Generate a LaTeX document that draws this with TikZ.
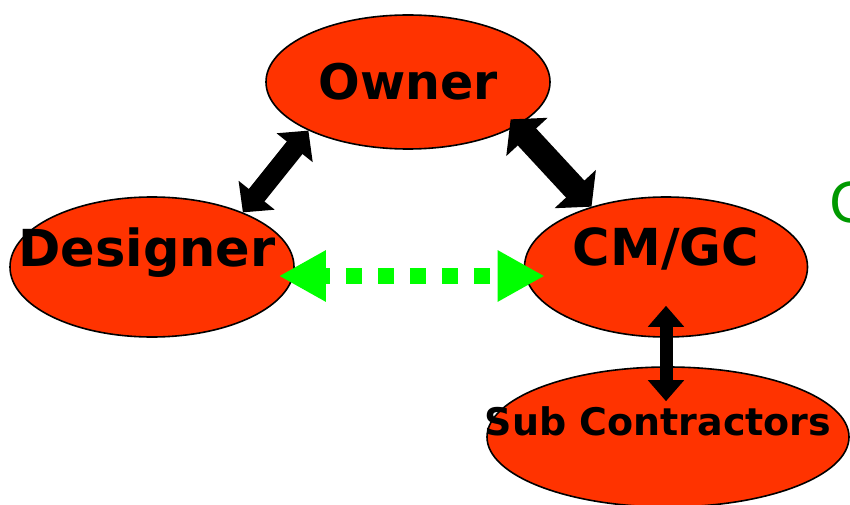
\documentclass[tikz,border=0pt]{standalone}
\usepackage{fontspec}
\setmainfont{DejaVu Sans}
\usetikzlibrary{positioning, shapes.geometric, arrows.meta}
\definecolor{partyred}{RGB}{255,51,0}
\definecolor{linkgreen}{RGB}{0,255,0}
\definecolor{textgreen}{RGB}{0,153,0}

\begin{document}
\begin{tikzpicture}[x=1pt, y=-1pt,
            party/.style ={ellipse, fill=partyred, draw=black, line width=1.6pt,
            inner sep=0pt},
            lbl/.style ={anchor=base, font=\bfseries, text=black, inner sep=0pt},
            fatlink/.style ={{Triangle[length=24pt,width=55pt]}-{Triangle[length=24pt,width=55pt]},
            line width=25pt, black},
            link/.style ={{Triangle[length=22pt,width=45pt]}-{Triangle[length=22pt,width=45pt]},
            line width=20pt, black},
            thinlink/.style ={{Triangle[length=21pt,width=35pt]}-{Triangle[length=21pt,width=35pt]},
            line width=13pt, black},
            dotlink/.style ={{Triangle[length=47pt,width=48pt]}-{Triangle[length=47pt,width=48pt]},
            line width=16pt, linkgreen, dash pattern=on 16pt off 16pt, dash phase=9pt}]

        \useasboundingbox (0,0) rectangle (850,505);

        %\node [estilo] (nombre) at (posicion absoluta) {};
        \node[party, minimum width=284pt, minimum height=134pt] (owner) at (408, 82) {};
        \node[party, minimum width=284pt, minimum height=140pt] (designer) at (152, 267) {};
        \node[party, minimum width=283pt, minimum height=140pt] (cmgc) at (666, 267) {};
        \node[party, minimum width=362pt, minimum height=140pt] (sub) at (668, 437) {};

        \node[lbl, font=\fontsize{49}{55}\selectfont\bfseries] (ownertxt) at ([yshift=-18pt]owner.center) {Owner};
        \node[lbl, font=\fontsize{51}{57}\selectfont\bfseries] (designertxt) at ([xshift=-5pt, yshift=1pt]designer.center) {Designer};
        \node[lbl, font=\fontsize{51}{57}\selectfont\bfseries] (cmgctxt) at ([yshift=2pt]cmgc.center) {CM/GC};
        \node[lbl, font=\fontsize{38}{44}\selectfont\bfseries] (subtxt) at ([xshift=-10pt, yshift=2pt]sub.center) {Sub Contractors};

        \node[anchor=base west, inner sep=0pt, text=textgreen, font=\fontsize{55}{60}\selectfont] (ctxt) at (829, 222) {C};

        \path (owner.206) edge[link] (designer.31);
        \path (owner.338) edge[fatlink, shorten <=-9pt] (cmgc.141);
        \path (designer.east) edge[dotlink, shorten <=-16pt, shorten >=-21pt, transform canvas={yshift=-9pt}] (cmgc.west);
        \path (cmgc.south) edge[thinlink, shorten <=-32pt, shorten >=-35pt] (cmgc.south |- sub.north);

        %si queremos el texto verde completo
        %\node at (829, 222) {...};
    \end{tikzpicture}
\end{document}
